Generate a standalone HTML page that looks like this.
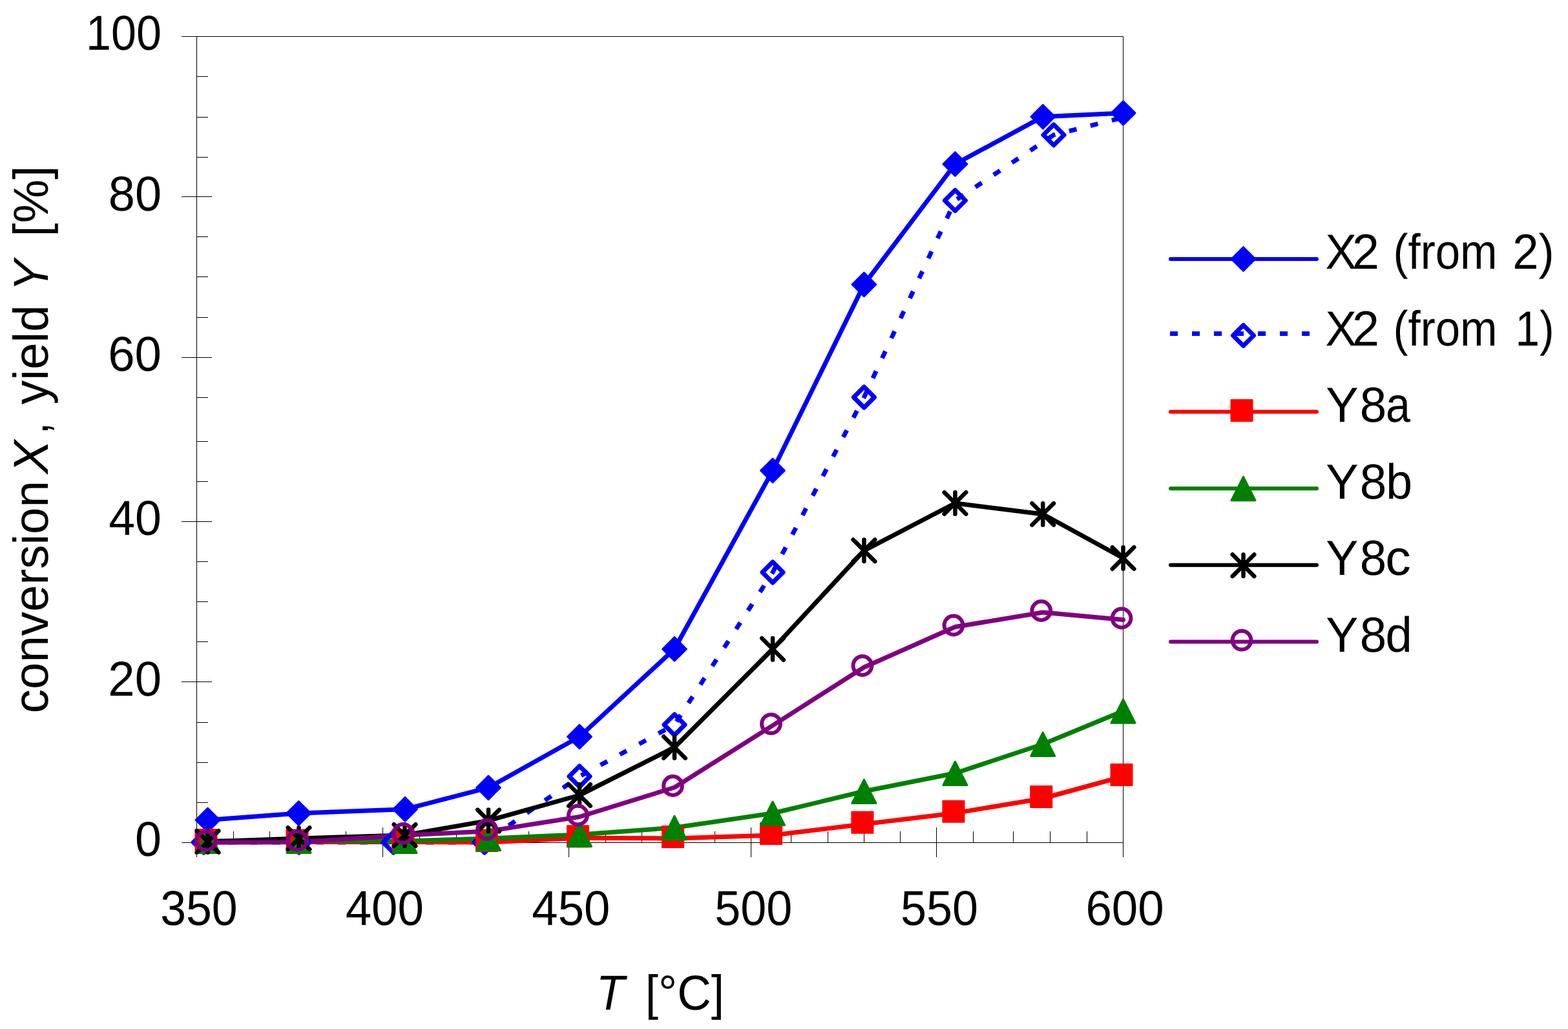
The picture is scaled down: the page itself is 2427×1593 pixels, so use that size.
<!DOCTYPE html>
<html><head><meta charset="utf-8"><title>Conversion and yield vs temperature</title>
<style>
html,body{margin:0;padding:0;background:#fff;overflow:hidden}
svg{display:block}
text{font-family:"Liberation Sans",Arial,sans-serif;font-kerning:none;text-rendering:geometricPrecision}
</style></head><body>
<svg width="2427" height="1593" viewBox="0 0 2427 1593"><g stroke="#000" fill="none" shape-rendering="crispEdges"><line x1="281.0" y1="56.5" x2="1739.0" y2="56.5" stroke-width="1"/><line x1="304.5" y1="56.5" x2="304.5" y2="1327.0" stroke-width="1"/><line x1="1738.5" y1="56.5" x2="1738.5" y2="1327.0" stroke-width="1"/><line x1="281.0" y1="1304.5" x2="1739.0" y2="1304.5" stroke-width="1"/><line x1="281.0" y1="304.5" x2="328.0" y2="304.5" stroke-width="1"/><line x1="281.0" y1="553.5" x2="328.0" y2="553.5" stroke-width="1"/><line x1="281.0" y1="807.5" x2="328.0" y2="807.5" stroke-width="1"/><line x1="281.0" y1="1055.5" x2="328.0" y2="1055.5" stroke-width="1"/><line x1="304.5" y1="118.5" x2="322.0" y2="118.5" stroke-width="1"/><line x1="304.5" y1="181.0" x2="322.0" y2="181.0" stroke-width="1"/><line x1="304.5" y1="243.0" x2="322.0" y2="243.0" stroke-width="1"/><line x1="304.5" y1="366.5" x2="322.0" y2="366.5" stroke-width="1"/><line x1="304.5" y1="428.5" x2="322.0" y2="428.5" stroke-width="1"/><line x1="304.5" y1="491.5" x2="322.0" y2="491.5" stroke-width="1"/><line x1="304.5" y1="615.5" x2="322.0" y2="615.5" stroke-width="1"/><line x1="304.5" y1="683.0" x2="322.0" y2="683.0" stroke-width="1"/><line x1="304.5" y1="745.5" x2="322.0" y2="745.5" stroke-width="1"/><line x1="304.5" y1="869.5" x2="322.0" y2="869.5" stroke-width="1"/><line x1="304.5" y1="931.5" x2="322.0" y2="931.5" stroke-width="1"/><line x1="304.5" y1="993.5" x2="322.0" y2="993.5" stroke-width="1"/><line x1="304.5" y1="1118.5" x2="322.0" y2="1118.5" stroke-width="1"/><line x1="304.5" y1="1180.0" x2="322.0" y2="1180.0" stroke-width="1"/><line x1="304.5" y1="1242.0" x2="322.0" y2="1242.0" stroke-width="1"/><line x1="592.5" y1="1281.0" x2="592.5" y2="1327.0" stroke-width="1"/><line x1="880.5" y1="1281.0" x2="880.5" y2="1327.0" stroke-width="1"/><line x1="1162.5" y1="1281.0" x2="1162.5" y2="1327.0" stroke-width="1"/><line x1="1449.5" y1="1281.0" x2="1449.5" y2="1327.0" stroke-width="1"/><line x1="361.0" y1="1287.0" x2="361.0" y2="1304.5" stroke-width="1"/><line x1="417.5" y1="1287.0" x2="417.5" y2="1304.5" stroke-width="1"/><line x1="476.5" y1="1287.0" x2="476.5" y2="1304.5" stroke-width="1"/><line x1="535.5" y1="1287.0" x2="535.5" y2="1304.5" stroke-width="1"/><line x1="649.5" y1="1287.0" x2="649.5" y2="1304.5" stroke-width="1"/><line x1="706.0" y1="1287.0" x2="706.0" y2="1304.5" stroke-width="1"/><line x1="762.5" y1="1287.0" x2="762.5" y2="1304.5" stroke-width="1"/><line x1="818.5" y1="1287.0" x2="818.5" y2="1304.5" stroke-width="1"/><line x1="937.0" y1="1287.0" x2="937.0" y2="1304.5" stroke-width="1"/><line x1="993.5" y1="1287.0" x2="993.5" y2="1304.5" stroke-width="1"/><line x1="1050.0" y1="1287.0" x2="1050.0" y2="1304.5" stroke-width="1"/><line x1="1106.5" y1="1287.0" x2="1106.5" y2="1304.5" stroke-width="1"/><line x1="1224.5" y1="1287.0" x2="1224.5" y2="1304.5" stroke-width="1"/><line x1="1281.0" y1="1287.0" x2="1281.0" y2="1304.5" stroke-width="1"/><line x1="1337.5" y1="1287.0" x2="1337.5" y2="1304.5" stroke-width="1"/><line x1="1393.5" y1="1287.0" x2="1393.5" y2="1304.5" stroke-width="1"/><line x1="1506.5" y1="1287.0" x2="1506.5" y2="1304.5" stroke-width="1"/><line x1="1568.5" y1="1287.0" x2="1568.5" y2="1304.5" stroke-width="1"/><line x1="1625.5" y1="1287.0" x2="1625.5" y2="1304.5" stroke-width="1"/><line x1="1682.0" y1="1287.0" x2="1682.0" y2="1304.5" stroke-width="1"/></g><g fill="none" stroke-width="7" stroke-linejoin="round" stroke-linecap="round"><polyline points="321.5,1269.5 462.3,1259.0 627.0,1252.8 756.0,1219.4 897.0,1140.5 1044.0,1004.8 1196.0,728.5 1337.4,440.4 1478.4,254.0 1614.3,180.7 1738.6,175.0" stroke="#0000ff"/><polyline points="315.4,1304.0 462.9,1304.0 609.0,1304.0 750.0,1304.0 897.0,1202.0 1044.0,1122.0 1196.0,886.0 1337.4,615.0 1478.4,310.4 1631.0,208.9 1738.0,182.0" stroke="#0000ff" stroke-dasharray="12 22.06" stroke-dashoffset="30.7" stroke-linecap="butt"/><polyline points="321.5,1302.9 462.5,1303.5 626.5,1303.5 756.0,1304.0 897.0,1297.2 1044.0,1297.9 1196.0,1293.0 1337.4,1275.8 1478.4,1258.8 1614.2,1236.0 1738.5,1202.0" stroke="#ff0000"/><polyline points="321.5,1302.0 462.5,1302.0 626.5,1302.0 756.0,1298.0 897.0,1292.0 1044.0,1281.3 1196.0,1259.0 1337.4,1225.0 1478.4,1197.0 1614.2,1152.0 1738.5,1100.7" stroke="#008000"/><polyline points="321.5,1303.0 462.5,1298.0 626.5,1293.0 756.0,1270.4 897.0,1231.0 1044.0,1157.0 1196.0,1004.8 1337.4,852.3 1478.4,779.0 1614.2,796.0 1738.5,864.0" stroke="#000000"/><polyline points="321.5,1304.3 462.5,1303.8 626.5,1292.9 756.0,1286.7 897.0,1264.5 1044.0,1219.0 1196.0,1123.1 1337.4,1033.0 1478.4,970.5 1614.2,948.0 1738.5,959.5" stroke="#800080"/></g><g><polygon points="321.5,1250.9 340.1,1269.5 321.5,1288.1 302.9,1269.5" fill="#0000ff" stroke="#0000ff" stroke-width="2.5" stroke-linejoin="round"/><polygon points="462.3,1240.4 480.9,1259.0 462.3,1277.6 443.7,1259.0" fill="#0000ff" stroke="#0000ff" stroke-width="2.5" stroke-linejoin="round"/><polygon points="627.0,1234.2 645.6,1252.8 627.0,1271.4 608.4,1252.8" fill="#0000ff" stroke="#0000ff" stroke-width="2.5" stroke-linejoin="round"/><polygon points="756.0,1200.8 774.6,1219.4 756.0,1238.0 737.4,1219.4" fill="#0000ff" stroke="#0000ff" stroke-width="2.5" stroke-linejoin="round"/><polygon points="897.0,1121.9 915.6,1140.5 897.0,1159.1 878.4,1140.5" fill="#0000ff" stroke="#0000ff" stroke-width="2.5" stroke-linejoin="round"/><polygon points="1044.0,986.2 1062.6,1004.8 1044.0,1023.4 1025.4,1004.8" fill="#0000ff" stroke="#0000ff" stroke-width="2.5" stroke-linejoin="round"/><polygon points="1196.0,709.9 1214.6,728.5 1196.0,747.1 1177.4,728.5" fill="#0000ff" stroke="#0000ff" stroke-width="2.5" stroke-linejoin="round"/><polygon points="1337.4,421.8 1356.0,440.4 1337.4,459.0 1318.8,440.4" fill="#0000ff" stroke="#0000ff" stroke-width="2.5" stroke-linejoin="round"/><polygon points="1478.4,235.4 1497.0,254.0 1478.4,272.6 1459.8,254.0" fill="#0000ff" stroke="#0000ff" stroke-width="2.5" stroke-linejoin="round"/><polygon points="1614.3,162.1 1632.9,180.7 1614.3,199.3 1595.7,180.7" fill="#0000ff" stroke="#0000ff" stroke-width="2.5" stroke-linejoin="round"/><polygon points="1738.6,156.4 1757.2,175.0 1738.6,193.6 1720.0,175.0" fill="#0000ff" stroke="#0000ff" stroke-width="2.5" stroke-linejoin="round"/><polygon points="315.4,1288.0 331.4,1304.0 315.4,1320.0 299.4,1304.0" fill="none" stroke="#0000ff" stroke-width="7" stroke-linejoin="round"/><polygon points="462.9,1288.0 478.9,1304.0 462.9,1320.0 446.9,1304.0" fill="none" stroke="#0000ff" stroke-width="7" stroke-linejoin="round"/><polygon points="609.0,1288.0 625.0,1304.0 609.0,1320.0 593.0,1304.0" fill="none" stroke="#0000ff" stroke-width="7" stroke-linejoin="round"/><polygon points="750.0,1288.0 766.0,1304.0 750.0,1320.0 734.0,1304.0" fill="none" stroke="#0000ff" stroke-width="7" stroke-linejoin="round"/><polygon points="897.0,1186.0 913.0,1202.0 897.0,1218.0 881.0,1202.0" fill="none" stroke="#0000ff" stroke-width="7" stroke-linejoin="round"/><polygon points="1044.0,1106.0 1060.0,1122.0 1044.0,1138.0 1028.0,1122.0" fill="none" stroke="#0000ff" stroke-width="7" stroke-linejoin="round"/><polygon points="1196.0,870.0 1212.0,886.0 1196.0,902.0 1180.0,886.0" fill="none" stroke="#0000ff" stroke-width="7" stroke-linejoin="round"/><polygon points="1337.4,599.0 1353.4,615.0 1337.4,631.0 1321.4,615.0" fill="none" stroke="#0000ff" stroke-width="7" stroke-linejoin="round"/><polygon points="1478.4,294.4 1494.4,310.4 1478.4,326.4 1462.4,310.4" fill="none" stroke="#0000ff" stroke-width="7" stroke-linejoin="round"/><polygon points="1631.0,192.9 1647.0,208.9 1631.0,224.9 1615.0,208.9" fill="none" stroke="#0000ff" stroke-width="7" stroke-linejoin="round"/><rect x="302.5" y="1283.9" width="33" height="33" fill="#ff0000" stroke="#ff0000" stroke-width="2" stroke-linejoin="round"/><rect x="443.5" y="1284.5" width="33" height="33" fill="#ff0000" stroke="#ff0000" stroke-width="2" stroke-linejoin="round"/><rect x="607.5" y="1284.5" width="33" height="33" fill="#ff0000" stroke="#ff0000" stroke-width="2" stroke-linejoin="round"/><rect x="737.0" y="1285.0" width="33" height="33" fill="#ff0000" stroke="#ff0000" stroke-width="2" stroke-linejoin="round"/><rect x="878.0" y="1278.2" width="33" height="33" fill="#ff0000" stroke="#ff0000" stroke-width="2" stroke-linejoin="round"/><rect x="1025.0" y="1278.9" width="33" height="33" fill="#ff0000" stroke="#ff0000" stroke-width="2" stroke-linejoin="round"/><rect x="1177.0" y="1274.0" width="33" height="33" fill="#ff0000" stroke="#ff0000" stroke-width="2" stroke-linejoin="round"/><rect x="1318.4" y="1256.8" width="33" height="33" fill="#ff0000" stroke="#ff0000" stroke-width="2" stroke-linejoin="round"/><rect x="1459.4" y="1239.8" width="33" height="33" fill="#ff0000" stroke="#ff0000" stroke-width="2" stroke-linejoin="round"/><rect x="1595.2" y="1217.0" width="33" height="33" fill="#ff0000" stroke="#ff0000" stroke-width="2" stroke-linejoin="round"/><rect x="1719.5" y="1183.0" width="33" height="33" fill="#ff0000" stroke="#ff0000" stroke-width="2" stroke-linejoin="round"/><polygon points="321.5,1284.0 340.0,1320.5 303.0,1320.5" fill="#008000" stroke="#008000" stroke-width="3" stroke-linejoin="round"/><polygon points="462.5,1284.0 481.0,1320.5 444.0,1320.5" fill="#008000" stroke="#008000" stroke-width="3" stroke-linejoin="round"/><polygon points="626.5,1284.0 645.0,1320.5 608.0,1320.5" fill="#008000" stroke="#008000" stroke-width="3" stroke-linejoin="round"/><polygon points="756.0,1280.0 774.5,1316.5 737.5,1316.5" fill="#008000" stroke="#008000" stroke-width="3" stroke-linejoin="round"/><polygon points="897.0,1274.0 915.5,1310.5 878.5,1310.5" fill="#008000" stroke="#008000" stroke-width="3" stroke-linejoin="round"/><polygon points="1044.0,1263.3 1062.5,1299.8 1025.5,1299.8" fill="#008000" stroke="#008000" stroke-width="3" stroke-linejoin="round"/><polygon points="1196.0,1241.0 1214.5,1277.5 1177.5,1277.5" fill="#008000" stroke="#008000" stroke-width="3" stroke-linejoin="round"/><polygon points="1337.4,1207.0 1355.9,1243.5 1318.9,1243.5" fill="#008000" stroke="#008000" stroke-width="3" stroke-linejoin="round"/><polygon points="1478.4,1179.0 1496.9,1215.5 1459.9,1215.5" fill="#008000" stroke="#008000" stroke-width="3" stroke-linejoin="round"/><polygon points="1614.2,1134.0 1632.7,1170.5 1595.7,1170.5" fill="#008000" stroke="#008000" stroke-width="3" stroke-linejoin="round"/><polygon points="1738.5,1082.7 1757.0,1119.2 1720.0,1119.2" fill="#008000" stroke="#008000" stroke-width="3" stroke-linejoin="round"/><path d="M321.5 1286.2V1319.8M304.7 1286.2L338.3 1319.8M338.3 1286.2L304.7 1319.8" stroke="#000000" stroke-width="6.5" stroke-linecap="round" fill="none"/><path d="M462.5 1281.2V1314.8M445.7 1281.2L479.3 1314.8M479.3 1281.2L445.7 1314.8" stroke="#000000" stroke-width="6.5" stroke-linecap="round" fill="none"/><path d="M626.5 1276.2V1309.8M609.7 1276.2L643.3 1309.8M643.3 1276.2L609.7 1309.8" stroke="#000000" stroke-width="6.5" stroke-linecap="round" fill="none"/><path d="M756.0 1253.6V1287.2M739.2 1253.6L772.8 1287.2M772.8 1253.6L739.2 1287.2" stroke="#000000" stroke-width="6.5" stroke-linecap="round" fill="none"/><path d="M897.0 1214.2V1247.8M880.2 1214.2L913.8 1247.8M913.8 1214.2L880.2 1247.8" stroke="#000000" stroke-width="6.5" stroke-linecap="round" fill="none"/><path d="M1044.0 1140.2V1173.8M1027.2 1140.2L1060.8 1173.8M1060.8 1140.2L1027.2 1173.8" stroke="#000000" stroke-width="6.5" stroke-linecap="round" fill="none"/><path d="M1196.0 988.0V1021.6M1179.2 988.0L1212.8 1021.6M1212.8 988.0L1179.2 1021.6" stroke="#000000" stroke-width="6.5" stroke-linecap="round" fill="none"/><path d="M1337.4 835.5V869.1M1320.6 835.5L1354.2 869.1M1354.2 835.5L1320.6 869.1" stroke="#000000" stroke-width="6.5" stroke-linecap="round" fill="none"/><path d="M1478.4 762.2V795.8M1461.6 762.2L1495.2 795.8M1495.2 762.2L1461.6 795.8" stroke="#000000" stroke-width="6.5" stroke-linecap="round" fill="none"/><path d="M1614.2 779.2V812.8M1597.4 779.2L1631.0 812.8M1631.0 779.2L1597.4 812.8" stroke="#000000" stroke-width="6.5" stroke-linecap="round" fill="none"/><path d="M1738.5 847.2V880.8M1721.7 847.2L1755.3 880.8M1755.3 847.2L1721.7 880.8" stroke="#000000" stroke-width="6.5" stroke-linecap="round" fill="none"/><circle cx="319.0" cy="1301.8" r="14.4" fill="none" stroke="#800080" stroke-width="6"/><circle cx="460.0" cy="1301.3" r="14.4" fill="none" stroke="#800080" stroke-width="6"/><circle cx="624.0" cy="1290.4" r="14.4" fill="none" stroke="#800080" stroke-width="6"/><circle cx="753.5" cy="1284.2" r="14.4" fill="none" stroke="#800080" stroke-width="6"/><circle cx="894.5" cy="1262.0" r="14.4" fill="none" stroke="#800080" stroke-width="6"/><circle cx="1041.5" cy="1216.5" r="14.4" fill="none" stroke="#800080" stroke-width="6"/><circle cx="1193.5" cy="1120.6" r="14.4" fill="none" stroke="#800080" stroke-width="6"/><circle cx="1334.9" cy="1030.5" r="14.4" fill="none" stroke="#800080" stroke-width="6"/><circle cx="1475.9" cy="968.0" r="14.4" fill="none" stroke="#800080" stroke-width="6"/><circle cx="1611.7" cy="945.5" r="14.4" fill="none" stroke="#800080" stroke-width="6"/><circle cx="1736.0" cy="957.0" r="14.4" fill="none" stroke="#800080" stroke-width="6"/></g><g><line x1="1812" y1="401.0" x2="2038" y2="401.0" stroke="#0000ff" stroke-width="6" stroke-linecap="round"/><line x1="1811" y1="516.6" x2="2030" y2="516.6" stroke="#0000ff" stroke-width="7" stroke-dasharray="12 22"/><line x1="1812" y1="637.6" x2="2038" y2="637.6" stroke="#ff0000" stroke-width="6" stroke-linecap="round"/><line x1="1812" y1="756.2" x2="2038" y2="756.2" stroke="#008000" stroke-width="6" stroke-linecap="round"/><line x1="1812" y1="874.8" x2="2038" y2="874.8" stroke="#000000" stroke-width="6" stroke-linecap="round"/><line x1="1812" y1="993.6" x2="2038" y2="993.6" stroke="#800080" stroke-width="6" stroke-linecap="round"/><polygon points="1924.5,382.4 1943.1,401.0 1924.5,419.6 1905.9,401.0" fill="#0000ff" stroke="#0000ff" stroke-width="2.5" stroke-linejoin="round"/><polygon points="1924.5,503.4 1940.5,519.4 1924.5,535.4 1908.5,519.4" fill="none" stroke="#0000ff" stroke-width="7" stroke-linejoin="round"/><rect x="1905.5" y="619.1" width="33" height="33" fill="#ff0000" stroke="#ff0000" stroke-width="2" stroke-linejoin="round"/><polygon points="1924.5,738.2 1943.0,774.7 1906.0,774.7" fill="#008000" stroke="#008000" stroke-width="3" stroke-linejoin="round"/><path d="M1924.5 858.5V892.1M1907.7 858.5L1941.3 892.1M1941.3 858.5L1907.7 892.1" stroke="#000000" stroke-width="6.5" stroke-linecap="round" fill="none"/><circle cx="1922.0" cy="991.1" r="14.4" fill="none" stroke="#800080" stroke-width="6"/></g><g fill="#000"><text transform="translate(132.96 76.80) scale(0.9217 1)" font-size="76.0">100</text><text transform="translate(167.79 325.60) scale(0.9724 1)" font-size="76.0">80</text><text transform="translate(167.22 574.20) scale(0.9793 1)" font-size="76.0">60</text><text transform="translate(168.21 828.00) scale(0.9671 1)" font-size="76.0">40</text><text transform="translate(167.36 1076.60) scale(0.9776 1)" font-size="76.0">20</text><text transform="translate(209.02 1325.20) scale(0.9689 1)" font-size="76.0">0</text><text transform="translate(248.17 1432.30) scale(0.9426 1)" font-size="76.0">350</text><text transform="translate(534.63 1432.30) scale(0.9559 1)" font-size="76.0">400</text><text transform="translate(823.34 1432.30) scale(0.9534 1)" font-size="76.0">450</text><text transform="translate(1106.22 1432.30) scale(0.9463 1)" font-size="76.0">500</text><text transform="translate(1394.12 1432.30) scale(0.9463 1)" font-size="76.0">550</text><text transform="translate(1680.41 1432.30) scale(0.9552 1)" font-size="76.0">600</text><g><text transform="translate(2051.47 415.80) scale(0.9476 1)" font-size="76.5">X</text><text transform="translate(2092.91 415.80) scale(0.9842 1)" font-size="76.5">2</text><text transform="translate(2156.62 415.80) scale(0.9017 1)" font-size="76.5">(from</text><text transform="translate(2341.36 415.80) scale(0.9457 1)" font-size="76.5">2)</text></g><g><text transform="translate(2051.47 535.00) scale(0.9476 1)" font-size="76.5">X</text><text transform="translate(2092.91 535.00) scale(0.9842 1)" font-size="76.5">2</text><text transform="translate(2156.62 535.00) scale(0.9017 1)" font-size="76.5">(from</text><text transform="translate(2345.47 535.00) scale(0.8808 1)" font-size="76.5">1)</text></g><g><text transform="translate(2052.24 652.90) scale(0.9882 1)" font-size="76.5">Y</text><text transform="translate(2104.66 652.90) scale(0.9750 1)" font-size="76.5">8</text><text transform="translate(2145.01 652.90) scale(0.8907 1)" font-size="76.5">a</text></g><g><text transform="translate(2052.24 771.70) scale(0.9882 1)" font-size="76.5">Y</text><text transform="translate(2104.66 771.70) scale(0.9750 1)" font-size="76.5">8</text><text transform="translate(2145.17 771.70) scale(0.9592 1)" font-size="76.5">b</text></g><g><text transform="translate(2052.35 889.90) scale(0.9819 1)" font-size="76.5">Y</text><text transform="translate(2104.67 889.90) scale(0.9722 1)" font-size="76.5">8</text><text transform="translate(2144.35 889.90) scale(1.0308 1)" font-size="76.5">c</text></g><g><text transform="translate(2052.35 1008.90) scale(0.9819 1)" font-size="76.5">Y</text><text transform="translate(2104.67 1008.90) scale(0.9722 1)" font-size="76.5">8</text><text transform="translate(2144.58 1008.90) scale(0.9709 1)" font-size="76.5">d</text></g><text transform="translate(922.63 1562.80) scale(0.9481 1)" font-size="76.0" font-style="italic">T</text><text transform="translate(998.80 1562.80) scale(0.9591 1)" font-size="76.0">[°C]</text><g transform="translate(73.7 0) rotate(-90)"><text transform="translate(-1104.16 0.00) scale(0.9795 1)" font-size="76.0">conversion</text><text transform="translate(-733.61 0.00) scale(1.0291 1)" font-size="76.0" font-style="italic">X</text><text transform="translate(-671.68 0.00) scale(0.8312 1)" font-size="76.0">,</text><text transform="translate(-626.18 0.00) scale(0.9853 1)" font-size="76.0">yield</text><text transform="translate(-451.03 0.00) scale(0.9651 1)" font-size="76.0" font-style="italic">Y</text><text transform="translate(-366.42 0.00) scale(1.0003 1)" font-size="76.0">[%]</text></g></g></svg>
</body></html>
